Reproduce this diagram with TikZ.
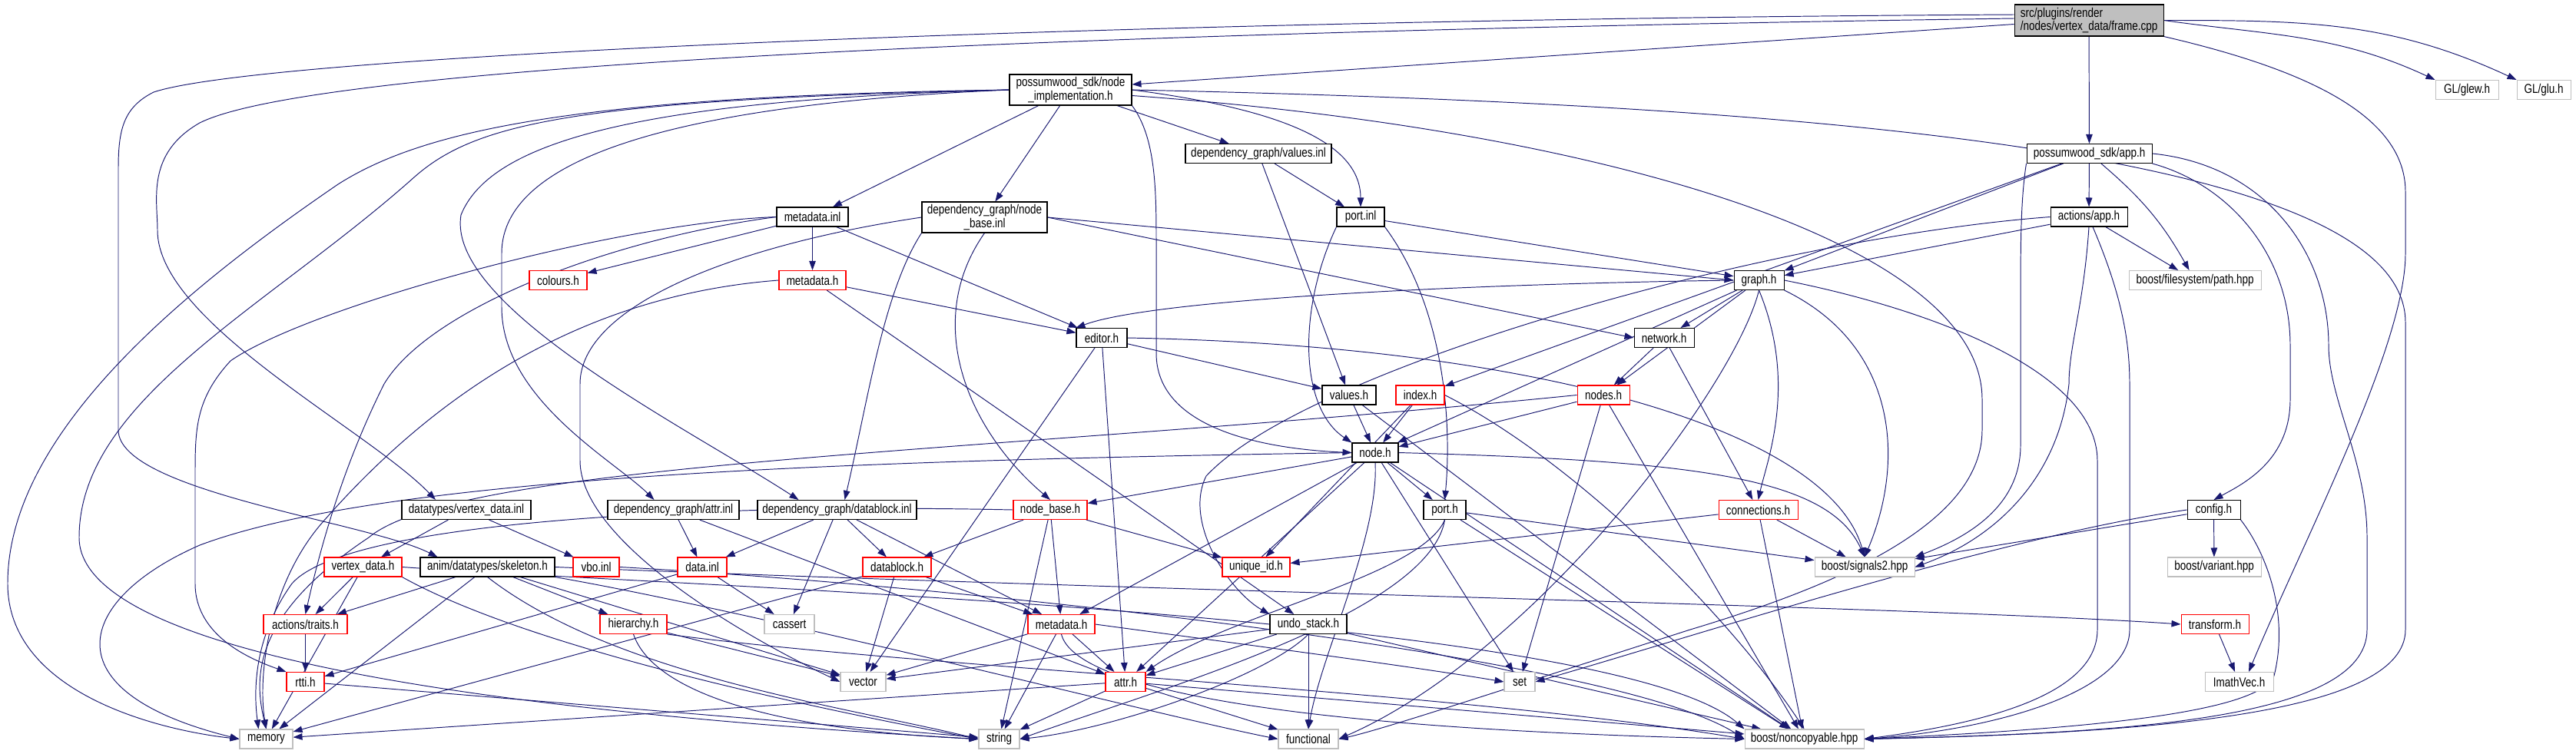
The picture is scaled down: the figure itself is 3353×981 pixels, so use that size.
\documentclass[tikz,border=0pt]{standalone}
\usepackage{fontspec}
\setmainfont{Liberation Sans}[FakeStretch=0.8]
\usetikzlibrary{arrows.meta,backgrounds}
\definecolor{edgeblue}{HTML}{191970}
\definecolor{boxgray}{HTML}{BFBFBF}

\begin{document}
\begin{tikzpicture}[
  x=0.02cm, y=-0.02cm,
  >={Triangle[length=0.24cm, width=0.17cm]},
  every node/.style={font=\fontsize{9.6}{8.8}\selectfont, align=center},
  bw/.style={minimum width=#1*0.02cm},
  block/.style={draw=black, fill=white, line width=0.6pt, minimum height=0.5cm, inner xsep=2pt, inner ysep=1pt},
  rblock/.style={block, draw=red},
  sblock/.style={block, draw=boxgray},
  fblock/.style={block, fill=boxgray, align=left},
  arr/.style={->, draw=edgeblue, line width=0.55pt}
]
  \useasboundingbox (0,0) rectangle (3353,981);

  \node[fblock, bw=194, minimum height=0.82cm] (frame) at (2719,26.5) {src/plugins/render\\/nodes/vertex\_data/frame.cpp};
  \node[block, bw=159, minimum height=0.8cm] (nimpl) at (1393.5,117) {possumwood\_sdk/node\\\_implementation.h};
  \node[sblock, bw=82] (glew) at (3211,117) {GL/glew.h};
  \node[sblock, bw=70] (glu) at (3311,117) {GL/glu.h};
  \node[block, bw=190] (valinl) at (1638,200) {dependency\_graph/values.inl};
  \node[block, bw=163] (sdkapp) at (2719.5,200) {possumwood\_sdk/app.h};
  \node[block, bw=93] (mdinl) at (1057.5,282.5) {metadata.inl};
  \node[block, bw=163, minimum height=0.8cm] (nbinl) at (1281.5,283) {dependency\_graph/node\\\_base.inl};
  \node[block, bw=62] (portinl) at (1771,282.5) {port.inl};
  \node[block, bw=100] (actapp) at (2719,282.5) {actions/app.h};
  \node[rblock, bw=75] (colours) at (726.5,365) {colours.h};
  \node[rblock, bw=87] (mdh) at (1057.5,365) {metadata.h};
  \node[block, bw=65] (graph) at (2289.5,365) {graph.h};
  \node[sblock, bw=172] (fspath) at (2857,365) {boost/filesystem/path.hpp};
  \node[block, bw=66] (editor) at (1434,440) {editor.h};
  \node[block, bw=78] (network) at (2166,440) {network.h};
  \node[block, bw=70] (valh) at (1756,514.5) {values.h};
  \node[rblock, bw=63] (index) at (1848.5,514.5) {index.h};
  \node[rblock, bw=68] (nodes) at (2087,514.5) {nodes.h};
  \node[block, bw=60] (nodeh) at (1790,589.5) {node.h};
  \node[block, bw=168] (vdinl) at (607,664) {datatypes/vertex\_data.inl};
  \node[block, bw=171] (attrinl) at (876.5,664) {dependency\_graph/attr.inl};
  \node[block, bw=207] (dbinl) at (1089.5,664) {dependency\_graph/datablock.inl};
  \node[rblock, bw=96] (nbh) at (1367,664) {node\_base.h};
  \node[block, bw=55] (porth) at (1880.5,664) {port.h};
  \node[rblock, bw=103] (conn) at (2288.5,664) {connections.h};
  \node[block, bw=69] (config) at (2881.5,664) {config.h};
  \node[rblock, bw=101] (vdh) at (472.5,738.5) {vertex\_data.h};
  \node[block, bw=175] (skel) at (634.5,738.5) {anim/datatypes/skeleton.h};
  \node[rblock, bw=60] (vbo) at (776,738.5) {vbo.inl};
  \node[rblock, bw=64] (datainl) at (914,738.5) {data.inl};
  \node[rblock, bw=89] (dbh) at (1167.5,738.5) {datablock.h};
  \node[rblock, bw=88] (uid) at (1635,738.5) {unique\_id.h};
  \node[sblock, bw=130] (sig) at (2427,738.5) {boost/signals2.hpp};
  \node[sblock, bw=122] (variant) at (2882,738.5) {boost/variant.hpp};
  \node[rblock, bw=109] (traits) at (397.5,813) {actions/traits.h};
  \node[rblock, bw=87] (hier) at (824.5,813) {hierarchy.h};
  \node[sblock, bw=65] (cassert) at (1027.5,813) {cassert};
  \node[rblock, bw=87] (mdh2) at (1381.5,813) {metadata.h};
  \node[block, bw=100] (undo) at (1703,813) {undo\_stack.h};
  \node[rblock, bw=88] (transform) at (2883,813) {transform.h};
  \node[rblock, bw=49] (rtti) at (397.5,888) {rtti.h};
  \node[sblock, bw=59] (vector) at (1123.5,888) {vector};
  \node[rblock, bw=52] (attrh) at (1465,888) {attr.h};
  \node[sblock, bw=40] (set) at (1978,888) {set};
  \node[sblock, bw=89] (imath) at (2914.5,888) {ImathVec.h};
  \node[sblock, bw=69] (memory) at (346.5,962.5) {memory};
  \node[sblock, bw=53] (string) at (1300.5,962.5) {string};
  \node[sblock, bw=78] (functional) at (1703,962.5) {functional};
  \node[sblock, bw=155] (noncopy) at (2348.5,962.5) {boost/noncopyable.hpp};

  \begin{scope}[on background layer]
  \draw[arr] ([yshift=-0.1cm]frame.west) -- ([yshift=0.14cm]nimpl.east);
  \draw[arr] (frame) -- (sdkapp);
  \draw[arr] (frame.east) to[out=-8,in=155] (glew.north west);
  \draw[arr] (frame.east) to[out=0,in=155] (glu.north west);
  \draw[arr] (frame.south east) .. controls (3000,90) and (3131,150) .. (3131,250) -- (3131,330) .. controls (3131,450) and (3000,700) .. ([xshift=0.25cm]imath.north);
  \draw[arr] ([yshift=0.05cm]frame.west) .. controls (1500,40) and (420,80) .. (260,160) .. controls (190,200) and (205,260) .. (205,300) .. controls (205,420) and (480,560) .. ([xshift=-0.8cm]vdinl.north);
  \draw[arr] ([yshift=0.15cm]frame.west) .. controls (1500,25) and (350,70) .. (200,120) .. controls (160,140) and (154,170) .. (154,220) -- (154,560) .. controls (154,640) and (480,680) .. ([xshift=-1.3cm]skel.north);

  \draw[arr] (nimpl) -- (mdinl);
  \draw[arr] (nimpl) -- (nbinl);
  \draw[arr] (nimpl) -- (valinl);
  \draw[arr] (nimpl.east) .. controls (1650,140) and (1771,180) .. (portinl.north);
  \draw[arr] (nimpl.south east) .. controls (1505,180) and (1505,250) .. (1505,320) -- (1505,460) .. controls (1505,560) and (1650,585) .. (nodeh.west);
  \draw[arr] (nimpl.east) .. controls (2300,135) and (3131,190) .. (3131,420) -- (3131,820) .. controls (3131,930) and (2800,955) .. (noncopy.east);
  \draw[arr] ([yshift=-0.15cm]nimpl.east) .. controls (2100,170) and (2580,320) .. (2580,520) -- (2580,560) .. controls (2580,680) and (2400,760) .. (2200,820) .. controls (1950,900) and (1800,950) .. (functional.east);
  \draw[arr] (nimpl.west) .. controls (750,125) and (550,170) .. (440,240) .. controls (250,370) and (10,560) .. (10,760) .. controls (10,900) and (200,950) .. (memory.west);
  \draw[arr] (nimpl.west) .. controls (750,130) and (620,160) .. (540,230) .. controls (350,400) and (103,520) .. (103,700) .. controls (103,860) and (700,930) .. (string.west);
  \draw[arr] (nimpl.west) .. controls (850,130) and (640,180) .. (600,280) .. controls (580,400) and (900,560) .. ([xshift=-1cm]dbinl.north);
  \draw[arr] (nimpl.west) .. controls (900,135) and (653,200) .. (653,330) -- (653,400) .. controls (653,520) and (800,600) .. ([xshift=-0.5cm]attrinl.north);

  \draw[arr] (valinl) -- (portinl);
  \draw[arr] (valinl) -- (valh);
  \draw[arr] (sdkapp) -- (actapp);
  \draw[arr] (sdkapp) to[bend left=10] (fspath);
  \draw[arr] (sdkapp) -- (graph);
  \draw[arr] (sdkapp) -- (index);
  \draw[arr] (sdkapp.south west) .. controls (2630,260) and (2630,320) .. (2630,400) -- (2630,580) .. controls (2630,660) and (2560,700) .. (sig.north east);
  \draw[arr] (sdkapp.south east) .. controls (2900,240) and (2981,330) .. (2981,450) -- (2981,520) .. controls (2981,600) and (2920,630) .. (config.north);
  \draw[arr] (sdkapp.east) .. controls (2950,215) and (3031,330) .. (3031,450) .. controls (3031,520) and (3081,600) .. (3081,700) -- (3081,820) .. controls (3081,940) and (2750,955) .. (noncopy.east);
  \draw[arr] (actapp) -- (fspath);
  \draw[arr] (actapp) -- (graph);
  \draw[arr] (actapp.south) .. controls (2712,400) and (2693,450) .. (2693,500) .. controls (2680,620) and (2600,700) .. (sig.east);
  \draw[arr] ([xshift=0.1cm]actapp.south) .. controls (2760,380) and (2772,440) .. (2772,500) -- (2772,820) .. controls (2772,900) and (2600,950) .. (noncopy.east);
  \draw[arr] (actapp.west) .. controls (2300,310) and (1700,480) .. (1570,620) .. controls (1540,680) and (1600,770) .. (undo.north west);

  \draw[arr] (mdinl) -- (colours);
  \draw[arr] (mdinl) -- (mdh);
  \draw[arr] (mdinl) -- (editor);
  \draw[arr] (mdinl.west) .. controls (800,290) and (400,400) .. (300,470) .. controls (254,520) and (254,560) .. (254,620) -- (254,760) .. controls (254,830) and (330,860) .. (rtti.north west);
  \draw[arr] (mdinl.west) .. controls (800,310) and (560,400) .. (500,500) .. controls (450,600) and (420,700) .. (traits.north);
  \draw[arr] (nbinl.south west) .. controls (1150,380) and (1130,520) .. ([xshift=0.2cm]dbinl.north);
  \draw[arr] (nbinl.south) .. controls (1200,420) and (1260,560) .. (nbh.north);
  \draw[arr] (nbinl.east) -- (graph.west);
  \draw[arr] (nbinl.east) -- (network.west);
  \draw[arr] (nbinl.west) .. controls (950,320) and (755,400) .. (755,500) -- (755,600) .. controls (755,700) and (950,820) .. (vector.west);
  \draw[arr] (portinl) -- (graph);
  \draw[arr] (portinl.south east) .. controls (1880,400) and (1890,550) .. (porth.north);
  \draw[arr] (portinl.south west) .. controls (1690,400) and (1690,530) .. (nodeh.north west);
  \draw[arr] (mdh) -- (editor);
  \draw[arr] (mdh) -- (undo);
  \draw[arr] (mdh.west) .. controls (750,385) and (560,520) .. (420,680) .. controls (350,760) and (335,880) .. (memory.north);

  \draw[arr] (graph) -- (network);
  \draw[arr] (graph) -- (nodes);
  \draw[arr] (graph) -- (nodeh);
  \draw[arr] (graph.south) .. controls (2340,500) and (2300,600) .. (conn.north);
  \draw[arr] (graph.south east) .. controls (2470,450) and (2480,600) .. (sig.north);
  \draw[arr] (graph.south) .. controls (2260,500) and (2000,850) .. (functional.east);
  \draw[arr] (graph.east) .. controls (2500,400) and (2730,480) .. (2730,600) -- (2730,820) .. controls (2730,900) and (2600,940) .. (noncopy.east);
  \draw[arr] (graph.west) .. controls (1900,370) and (1500,390) .. (editor.north west);
  \draw[arr] (editor) -- (valh);
  \draw[arr] (editor) -- (attrh);
  \draw[arr] (editor) -- (vector);
  \draw[arr] (editor.east) .. controls (2000,450) and (2380,560) .. (sig.north);
  \draw[arr] (network) -- (nodes);
  \draw[arr] (network) -- (conn);
  \draw[arr] (valh) -- (nodeh);
  \draw[arr] (valh) -- (noncopy);
  \draw[arr] (index) -- (nodeh);
  \draw[arr] (index) -- (uid);
  \draw[arr] (index.east) .. controls (2050,600) and (2250,800) .. (noncopy.north);
  \draw[arr] (nodes) -- (nodeh);
  \draw[arr] (nodes) -- (set);
  \draw[arr] (nodes) -- (noncopy);
  \draw[arr] (nodes.west) .. controls (1300,590) and (600,600) .. (480,700) .. controls (330,800) and (330,880) .. (memory.north);

  \draw[arr] (nodeh) -- (nbh);
  \draw[arr] (nodeh) -- (porth);
  \draw[arr] (nodeh) -- (noncopy);
  \draw[arr] (nodeh) -- (mdh2);
  \draw[arr] (nodeh) -- (attrh);
  \draw[arr] (nodeh) -- (set);
  \draw[arr] (nodeh.east) .. controls (2200,600) and (2380,620) .. (sig.north);
  \draw[arr] (nodeh.south) .. controls (1795,700) and (1720,850) .. (functional.north);
  \draw[arr] (nodeh.west) .. controls (1100,600) and (500,620) .. (260,710) .. controls (100,780) and (60,900) .. (memory.west);

  \draw[arr] (vdinl) -- (vdh);
  \draw[arr] (vdinl) -- (vbo);
  \draw[arr] (vdh) -- (traits);
  \draw[arr] (vdh) -- (memory);
  \draw[arr] (vdh.south east) .. controls (700,850) and (1100,930) .. (string.west);
  \draw[arr] (vdh.east) .. controls (900,765) and (2100,800) .. (noncopy.north west);
  \draw[arr] (skel) -- (traits);
  \draw[arr] (skel) -- (memory);
  \draw[arr] (skel) -- (hier);
  \draw[arr] (skel) -- (vector);
  \draw[arr] (skel.south) .. controls (800,880) and (1100,920) .. (string.west);
  \draw[arr] (skel.south east) .. controls (1000,800) and (1500,930) .. (functional.west);
  \draw[arr] (skel.east) .. controls (1500,770) and (2500,790) .. (transform.west);
  \draw[arr] (vbo.east) .. controls (1200,760) and (2100,850) .. (noncopy.west);
  \draw[arr] (traits) -- (rtti);
  \draw[arr] (rtti) -- (string);
  \draw[arr] (hier) -- (vector);
  \draw[arr] (hier.south) .. controls (850,900) and (1000,950) .. (string.west);
  \draw[arr] (hier.south east) .. controls (1200,870) and (1900,900) .. (noncopy.west);

  \draw[arr] (attrinl) -- (datainl);
  \draw[arr] (attrinl) -- (attrh);
  \draw[arr] (dbinl) -- (datainl);
  \draw[arr] (dbinl) -- (cassert);
  \draw[arr] (dbinl) -- (dbh);
  \draw[arr] (dbinl) -- (mdh2);
  \draw[arr] (datainl) -- (cassert);
  \draw[arr] (datainl) -- (rtti);
  \draw[arr] (nbh) -- (dbh);
  \draw[arr] (nbh) -- (string);
  \draw[arr] (nbh) -- (mdh2);
  \draw[arr] (nbh) -- (uid);
  \draw[arr] (nbh.west) .. controls (900,655) and (450,680) .. (380,760) .. controls (330,830) and (330,900) .. ([xshift=-0.2cm]memory.north);
  \draw[arr] (dbh) -- (vector);
  \draw[arr] (dbh) -- (mdh2);
  \draw[arr] (dbh) -- (memory);
  \draw[arr] (mdh2) -- (vector);
  \draw[arr] (mdh2) -- (attrh);
  \draw[arr] (mdh2) -- (string);
  \draw[arr] (mdh2.east) .. controls (1700,850) and (1850,870) .. (set.west);
  \draw[arr] (mdh2.south) .. controls (1400,900) and (1700,950) .. (noncopy.west);

  \draw[arr] (porth) -- (sig);
  \draw[arr] (porth) -- (noncopy);
  \draw[arr] (porth.south) .. controls (1850,750) and (1600,800) .. (attrh.north east);
  \draw[arr] (porth.south) .. controls (1860,800) and (1500,900) .. (string.east);
  \draw[arr] (conn) -- (uid);
  \draw[arr] (conn) -- (sig);
  \draw[arr] (conn) -- (noncopy);
  \draw[arr] (config) -- (sig);
  \draw[arr] (config) -- (variant);
  \draw[arr] (config.west) .. controls (2600,700) and (2200,830) .. (set.east);
  \draw[arr] (config.south east) .. controls (2950,720) and (2980,800) .. (2960,880) .. controls (2940,930) and (2700,950) .. (noncopy.east);
  \draw[arr] (undo) -- (functional);
  \draw[arr] (undo) -- (noncopy);
  \draw[arr] (undo) -- (vector);
  \draw[arr] (undo) -- (attrh);
  \draw[arr] (undo.south) .. controls (1650,880) and (1450,950) .. (string.east);
  \draw[arr] (attrh) -- (string);
  \draw[arr] (attrh) -- (memory);
  \draw[arr] (attrh) -- (functional);
  \draw[arr] (attrh) -- (noncopy);
  \draw[arr] (transform) -- (imath);
  \end{scope}
\end{tikzpicture}
\end{document}
